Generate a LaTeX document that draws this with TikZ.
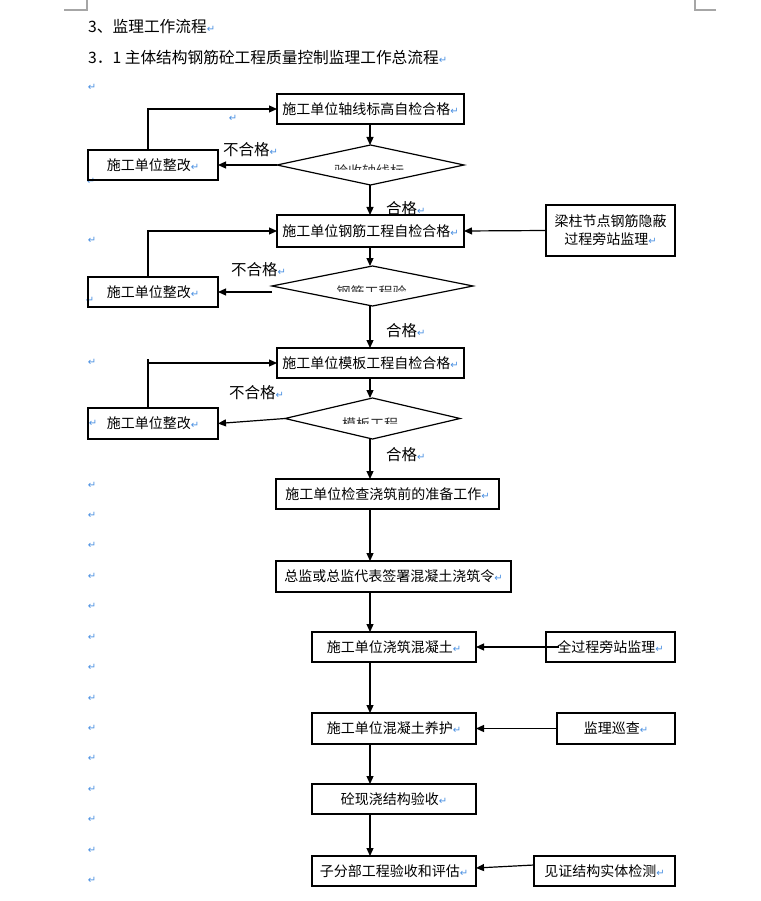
\documentclass[tikz,border=0pt]{standalone}
\usepackage{fontspec}
\setmainfont{Noto Sans CJK SC}
\newfontfamily\dvfont{DejaVu Sans}
\usetikzlibrary{arrows.meta,shapes.geometric}
\definecolor{pmblue}{HTML}{4A90E2}
\definecolor{cropgray}{HTML}{A6A6A6}
\newcommand{\pmk}{{\dvfont\fontsize{10}{10}\selectfont\textcolor{pmblue}{↵}}}
\tikzset{
  box/.style={draw, line width=1.2pt, inner sep=0pt, outer sep=0pt, minimum height=30pt, font=\fontsize{14}{18}\selectfont},
  dia/.style={draw, diamond, line width=1.2pt, inner sep=0pt, outer sep=0pt},
  arr/.style={line width=1.2pt, -{Triangle[length=8pt,width=7pt]}},
  ln/.style={line width=1.2pt},
  lab/.style={font=\fontsize{15.5}{15.5}\selectfont, inner sep=0pt, anchor=west},
  pm/.style={font=\dvfont\fontsize{10}{10}\selectfont, text=pmblue, inner sep=0pt},
  ttl/.style={font=\fontsize{15.7}{16}\selectfont, anchor=west, inner sep=0pt},
  dtext/.style={font=\fontsize{14}{14}\selectfont, inner sep=0pt, text=black!80},
}
\begin{document}
\begin{tikzpicture}[x=1pt,y=-1pt]
\fill[white] (0,0) rectangle (760,901);
\useasboundingbox (0,0) rectangle (760,901);

% crop marks
\draw[cropgray, line width=1.2pt] (64,10) -- (87,10) -- (87,0);
\draw[cropgray, line width=1.2pt] (716,10) -- (695,10) -- (695,0);

% titles
\node[ttl] (t1) at (88,27) {3、监理工作流程\pmk};
\node[ttl] (t2) at (88,58) {3．1 主体结构钢筋砼工程质量控制监理工作总流程\pmk};

% paragraph marks in the margin
\foreach \y in {87,240,485,515,545,576,606,637,667,698,728,758,789,819,850,880}
  \node[pm] (pm\y) at (92,\y) {↵};
\node[pm] (pmA) at (91,181) {↵};
\node[pm] (pmB) at (90,300) {↵};
\node[pm] (pmC) at (92,362) {↵};
\node[pm] (pmD) at (93,423) {↵};
\node[pm] (pmE) at (233,118) {↵};

% main boxes
\node[box, minimum width=187pt] (A) at (370.5,109) {施工单位轴线标高自检合格\pmk};
\node[box, minimum width=187pt, minimum height=32pt] (B) at (370.5,231) {施工单位钢筋工程自检合格\pmk};
\node[box, minimum width=187pt] (C) at (370.5,363) {施工单位模板工程自检合格\pmk};
\node[box, minimum width=223pt] (D) at (387.5,494) {施工单位检查浇筑前的准备工作\pmk};
\node[box, minimum width=235pt, minimum height=31pt] (E) at (393.5,576.5) {总监或总监代表签署混凝土浇筑令\pmk};
\node[box, minimum width=164pt] (F) at (394,647) {施工单位浇筑混凝土\pmk};
\node[box, minimum width=164pt, minimum height=31pt] (G) at (394,728.5) {施工单位混凝土养护\pmk};
\node[box, minimum width=164pt] (H) at (394,799) {砼现浇结构验收\pmk};
\node[box, minimum width=164pt] (I) at (394,871) {子分部工程验收和评估\pmk};

% left boxes
\node[box, minimum width=130pt] (L1) at (153,165) {施工单位整改\pmk};
\node[box, minimum width=130pt] (L2) at (153,292) {施工单位整改\pmk};
\node[box, minimum width=130pt, minimum height=31pt] (L3) at (153,423.5) {施工单位整改\pmk};

% right boxes
\node[box, minimum width=129pt, minimum height=51pt, align=center] (R1) at (610.5,230.5) {梁柱节点钢筋隐蔽\\过程旁站监理\pmk};
\node[box, minimum width=129pt] (R2) at (610.5,647) {全过程旁站监理\pmk};
\node[box, minimum width=118pt, minimum height=31pt] (R3) at (616,728.5) {监理巡查\pmk};
\node[box, minimum width=141pt] (R4) at (604.5,871) {见证结构实体检测\pmk};

% diamonds
\node[dia, minimum width=187pt, minimum height=40pt] (D1) at (370.5,165) {};
\node[dia, minimum width=201pt, minimum height=40pt] (D2) at (372.5,286) {};
\node[dia, minimum width=175pt, minimum height=41pt] (D3) at (372.5,418.5) {};

% clipped diamond texts
\begin{scope}
  \clip (270,150) rectangle (470,169.5);
  \node[dtext] (D1t) at (369,171) {验收轴线标};
\end{scope}
\begin{scope}
  \clip (270,270) rectangle (475,291);
  \node[dtext] (D2t) at (371.5,292.5) {钢筋工程验};
\end{scope}
\begin{scope}
  \clip (280,402) rectangle (465,423);
  \node[dtext] (D3t) at (370,424.5) {模板工程};
\end{scope}

% main column
\coordinate (M) at (370,0);
\coordinate (FX) at (148,0);
\draw[arr] (A.south -| M) -- (D1.north -| M);
\draw[arr] (D1.south -| M) -- (B.north -| M);
\draw[arr] (B.south -| M) -- (D2.north -| M);
\draw[arr] (D2.south -| M) -- (C.north -| M);
\draw[arr] (C.south -| M) -- (D3.north -| M);
\draw[arr] (D3.south -| M) -- (D.north -| M);
\draw[arr] (D.south -| M) -- (E.north -| M);
\draw[arr] (E.south -| M) -- (F.north -| M);
\draw[arr] (F.south -| M) -- (G.north -| M);
\draw[arr] (G.south -| M) -- (H.north -| M);
\draw[arr] (H.south -| M) -- (I.north -| M);

% rejections
\draw[arr] (D1.west) -- (L1.east);
\draw[arr] (L2.east -| D2.west) -- (L2.east);
\draw[arr] (D3.west) -- (L3.east);

% feedback loops
\draw[arr] (L1.north -| FX) |- (A.west);
\draw[arr] (L2.north -| FX) |- (B.west);
\draw[arr] (L3.north -| FX) |- (C.west);
\draw[ln] (C.west -| FX) -- ++(0,-4);

% side inputs
\draw[arr] (R1.west) -- (B.east);
\draw[arr] ([xshift=13pt]R2.west) -- (F.east);
\draw[arr] (R3.west) -- (G.east);
\draw[arr] ([yshift=6pt]R4.west) -- ([yshift=3pt]I.east);

% labels
\node[lab] (n1) at (223,150) {不合格\pmk};
\node[lab] (n2) at (231,270) {不合格\pmk};
\node[lab] (n3) at (229,393) {不合格\pmk};
\node[lab] (q1) at (386,209) {合格\pmk};
\node[lab] (q2) at (386,331) {合格\pmk};
\node[lab] (q3) at (386,455) {合格\pmk};
\end{tikzpicture}
\end{document}
